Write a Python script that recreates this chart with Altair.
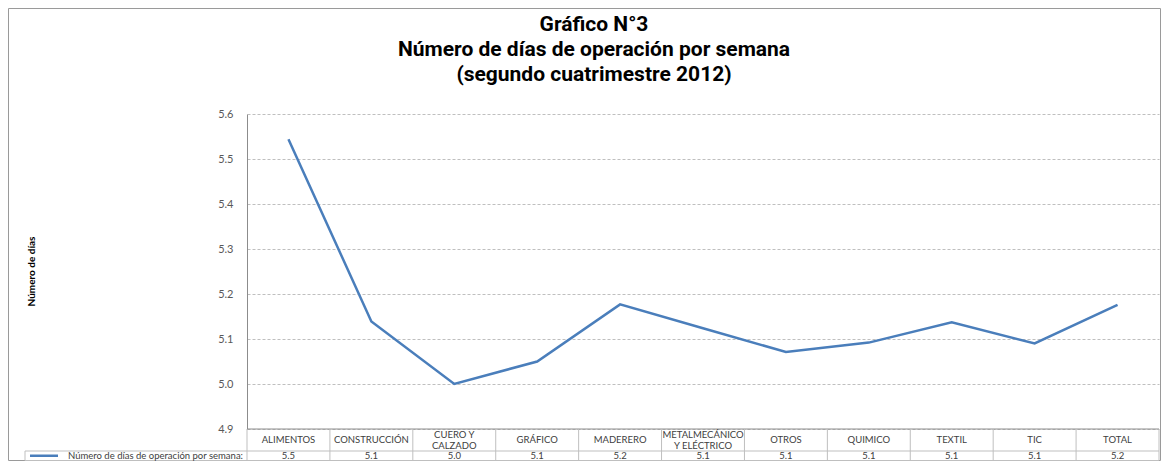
import altair as alt
import pandas as pd

# ---- data ----
categories = ["ALIMENTOS", "CONSTRUCCIÓN", "CUERO Y CALZADO", "GRÁFICO", "MADERERO",
              "METALMECÁNICO Y ELÉCTRICO", "OTROS", "QUIMICO", "TEXTIL", "TIC", "TOTAL"]
category_labels = ["ALIMENTOS", "CONSTRUCCIÓN", "CUERO Y\nCALZADO", "GRÁFICO", "MADERERO",
                   "METALMECÁNICO\nY ELÉCTRICO", "OTROS", "QUIMICO", "TEXTIL", "TIC", "TOTAL"]
dias = [5.544, 5.139, 5.000, 5.050, 5.177, 5.124, 5.071, 5.092, 5.137, 5.090, 5.176]
tabla = ["5.5", "5.1", "5.0", "5.1", "5.2", "5.1", "5.1", "5.1", "5.1", "5.1", "5.2"]
y_ticks = [4.9, 5.0, 5.1, 5.2, 5.3, 5.4, 5.5, 5.6]
series_name = "Número de días de operación por semana:"
y_title = "Número de días"
title_lines = ["Gráfico N°3", "Número de días de operación por semana", "(segundo cuatrimestre 2012)"]

df = pd.DataFrame({"cat": categories, "label": category_labels, "value": dias, "shown": tabla})
one = pd.DataFrame({"k": [0]})

# ---- layout ----
W, H = 912, 315
PAD_L, PAD_T, PAD_R, PAD_B = 239, 106, 2, 32
ROW1_END = 337
ROW2_END = 346.5
LEFT_CELL = -222
LINE_BLUE = "#4a7ebb"
GRID = "#bfbfbf"
TXT = "#404040"
FONT = "Lato"
LABEL_LH = 11

xscale = alt.Scale(type="band", paddingInner=0, paddingOuter=0)
yscale = alt.Scale(domain=[4.9, 5.6], nice=False, zero=False)

def xc(bp=0.5):
    return alt.X("cat:N", sort=categories, scale=xscale, axis=None, bandPosition=bp)

line = alt.Chart(df).mark_line(color=LINE_BLUE, strokeWidth=2.5).encode(
    x=xc(),
    y=alt.Y("value:Q", scale=yscale,
            axis=alt.Axis(values=y_ticks, format=".1f", grid=True, gridColor=GRID,
                          gridDash=[3, 2], ticks=False, domain=True, domainColor="#8c8c8c",
                          labelColor="#595959", labelFont=FONT, labelFontSize=11,
                          labelPadding=14, title=None)),
)

def hrule(x1, x2, y, color=GRID, sw=1):
    return alt.Chart(one).mark_rule(color=color, strokeWidth=sw).encode(
        x=alt.value(x1), x2=alt.value(x2), y=alt.value(y))

def vrule(x, y1, y2, color=GRID):
    return alt.Chart(one).mark_rule(color=color, strokeWidth=1).encode(
        x=alt.value(x), y=alt.value(y1), y2=alt.value(y2))

col_rules = alt.Chart(df).mark_rule(color=GRID, strokeWidth=1).encode(
    x=xc(0), y=alt.value(H), y2=alt.value(ROW2_END))

row1_mid = (H + ROW1_END) / 2
cat_text_1 = alt.Chart(df).transform_filter("indexof(datum.label, '\\n') < 0").mark_text(
    font=FONT, fontSize=9.5, color=TXT, baseline="middle").encode(
    x=xc(), y=alt.value(row1_mid), text="label:N")
cat_text_2 = alt.Chart(df).transform_filter("indexof(datum.label, '\\n') >= 0").mark_text(
    font=FONT, fontSize=9.5, color=TXT, lineBreak="\n", lineHeight=LABEL_LH,
    baseline="middle").encode(
    x=xc(), y=alt.value(row1_mid - LABEL_LH / 2), text="label:N")

val_text = alt.Chart(df).mark_text(font=FONT, fontSize=9.5, color=TXT, baseline="middle").encode(
    x=xc(), y=alt.value((ROW1_END + ROW2_END) / 2), text="shown:N")

legend_line = hrule(LEFT_CELL + 5, LEFT_CELL + 33, (ROW1_END + ROW2_END) / 2, LINE_BLUE, 2.5)
legend_text = alt.Chart(pd.DataFrame({"t": [series_name]})).mark_text(
    font=FONT, fontSize=9.5, color=TXT, align="right", baseline="middle").encode(
    x=alt.value(-4), y=alt.value((ROW1_END + ROW2_END) / 2), text="t:N")

ytitle = alt.Chart(pd.DataFrame({"t": [y_title]})).mark_text(
    font=FONT, fontSize=10, fontWeight="bold", color="#000000", angle=270,
    align="center", baseline="middle").encode(
    x=alt.value(-215), y=alt.value(H / 2), text="t:N")

title = alt.Chart(pd.DataFrame({"t": ["\n".join(title_lines)]})).mark_text(
    font="Roboto", fontSize=21, fontWeight="bold", color="#000000", lineBreak="\n",
    lineHeight=25, align="center", baseline="middle").encode(
    x=alt.value(347), y=alt.value(-89), text="t:N")

frame = alt.Chart(one).mark_rect(fillOpacity=0, stroke="#9a9a9a", strokeWidth=1).encode(
    x=alt.value(-PAD_L + 0.5), x2=alt.value(W + PAD_R - 0.5),
    y=alt.value(-PAD_T + 0.5), y2=alt.value(H + PAD_B - 0.5))

chart = alt.layer(
    frame, line,
    hrule(0, W, H, "#8c8c8c"), hrule(LEFT_CELL, W, ROW1_END), hrule(LEFT_CELL, W, ROW2_END),
    col_rules, vrule(W, H, ROW2_END), vrule(LEFT_CELL, ROW1_END, ROW2_END),
    cat_text_1, cat_text_2, val_text, legend_line, legend_text, ytitle, title,
).properties(
    width=W, height=H,
    autosize=alt.AutoSizeParams(type="none"),
    padding={"left": PAD_L, "top": PAD_T, "right": PAD_R, "bottom": PAD_B},
).configure_view(stroke=None)

chart.save("out.html", embed_options={"renderer": "svg", "actions": False})
